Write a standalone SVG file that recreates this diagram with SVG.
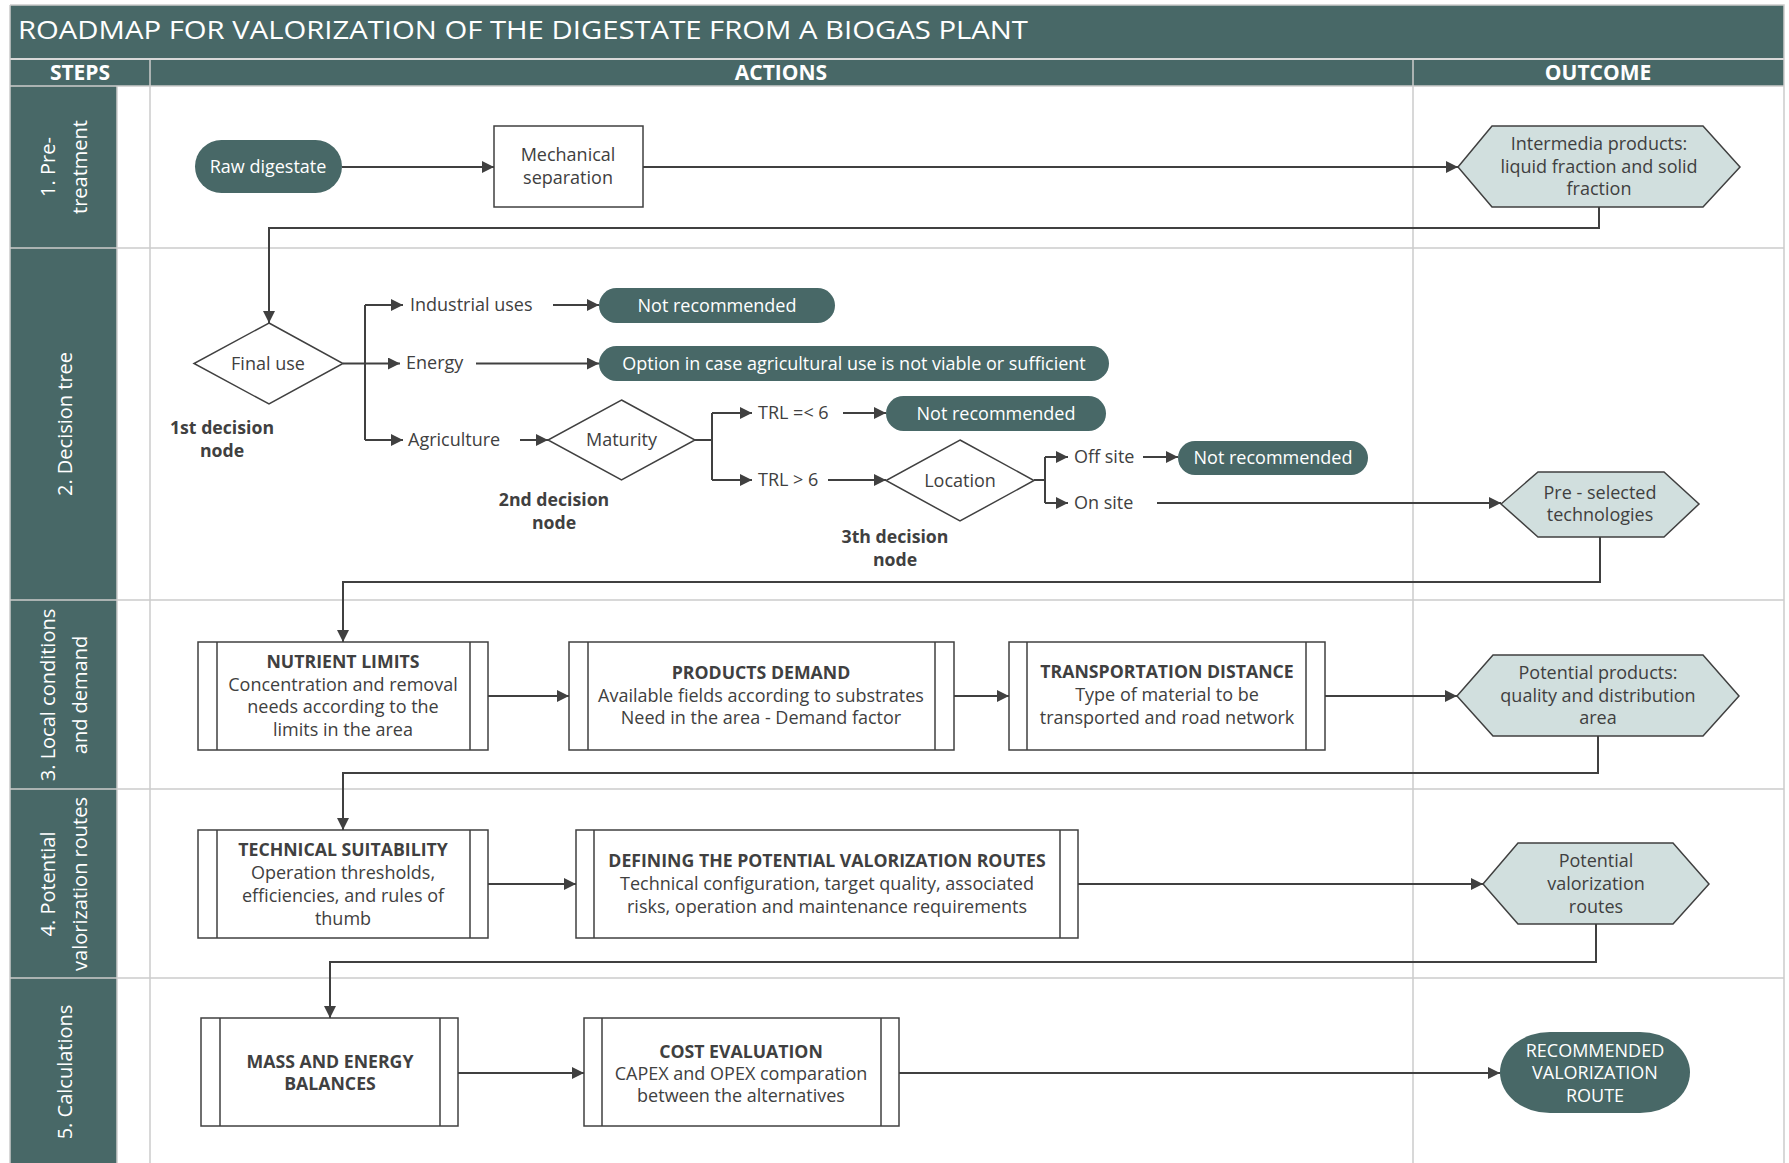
<svg xmlns="http://www.w3.org/2000/svg" width="1789" height="1163" viewBox="0 0 1789 1163">
<style>
.t{font-family:'Open Sans','Noto Sans','DejaVu Sans',sans-serif;font-size:18px;fill:#404040;text-anchor:middle}
.s{text-anchor:start}
.w{fill:#ffffff}
.b{font-weight:bold;font-size:17.7px}
.lane{font-family:'Open Sans','Noto Sans','DejaVu Sans',sans-serif;font-size:20px;fill:#ffffff;text-anchor:middle}
.hdr{font-family:'Open Sans','Noto Sans','DejaVu Sans',sans-serif;font-size:21px;font-weight:bold;fill:#ffffff;text-anchor:middle}
.ttl{font-family:'Open Sans','Noto Sans','DejaVu Sans',sans-serif;font-size:25px;fill:#ffffff}
.teal{fill:#486867}
.grid{stroke:#cccccc;stroke-width:1.5;fill:none}
.box{fill:#ffffff;stroke:#404040;stroke-width:1.5}
.hex{fill:#d1dfde;stroke:#404040;stroke-width:1.5}
.dia{fill:#ffffff;stroke:#404040;stroke-width:1.5}
.conn path{stroke:#404040;stroke-width:2;fill:none}
.arr{marker-end:url(#ah)}
</style>
<defs>
<marker id="ah" markerWidth="12" markerHeight="12" refX="12" refY="6" orient="auto" markerUnits="userSpaceOnUse"><path d="M0,0 L12,6 L0,12 z" fill="#404040"/></marker>
</defs>
<rect x="0" y="0" width="1789" height="1163" fill="#ffffff"/>
<g id="frame">
<rect class="teal" x="10" y="5" width="1774" height="53"/>
<rect class="teal" x="10" y="60" width="1774" height="26"/>
<rect class="teal" x="10" y="86" width="107" height="1077"/>
<path class="grid" d="M10,5 H1784 V1163 M10,5 V1163 M10,59 H1784 M10,86 H1784 M10,248 H1784 M10,600 H1784 M10,789 H1784 M10,978 H1784 M117,86 V1163 M150,60 V1163 M1413,60 V1163"/>
<text class="ttl" x="18" y="39" textLength="1010" lengthAdjust="spacingAndGlyphs">ROADMAP FOR VALORIZATION OF THE DIGESTATE FROM A BIOGAS PLANT</text>
<text class="hdr" x="80" y="80">STEPS</text>
<text class="hdr" x="781" y="80">ACTIONS</text>
<text class="hdr" x="1598" y="80">OUTCOME</text>
</g>
<g id="lanes">
<text class="lane" transform="translate(55,167) rotate(-90)"><tspan x="0" y="0">1. Pre-</tspan><tspan x="0" y="32">treatment</tspan></text>
<text class="lane" transform="translate(72,424) rotate(-90)">2. Decision tree</text>
<text class="lane" transform="translate(55,695) rotate(-90)"><tspan x="0" y="0">3. Local conditions</tspan><tspan x="0" y="32">and demand</tspan></text>
<text class="lane" transform="translate(55,884) rotate(-90)"><tspan x="0" y="0">4. Potential</tspan><tspan x="0" y="32">valorization routes</tspan></text>
<text class="lane" transform="translate(72,1072) rotate(-90)">5. Calculations</text>
</g>
<g class="conn" id="connectors">
<path class="arr" d="M342,167 H494"/>
<path class="arr" d="M643,167 H1458"/>
<path class="arr" d="M1599,207 V228 H269 V323"/>
<path d="M343,363.5 H365 M365,305 V440"/>
<path class="arr" d="M365,305 H403"/>
<path class="arr" d="M365,363.5 H400"/>
<path class="arr" d="M365,440 H403"/>
<path class="arr" d="M553,305 H599"/>
<path class="arr" d="M476,363.5 H599"/>
<path class="arr" d="M520,440 H548"/>
<path d="M695,440 H712 M712,413 V480"/>
<path class="arr" d="M712,413 H752"/>
<path class="arr" d="M712,480 H752"/>
<path class="arr" d="M843,413 H886"/>
<path class="arr" d="M828,480 H886"/>
<path d="M1034,480 H1045 M1045,457 V503"/>
<path class="arr" d="M1045,457 H1068"/>
<path class="arr" d="M1045,503 H1068"/>
<path class="arr" d="M1143,457 H1178"/>
<path class="arr" d="M1157,503 H1501"/>
<path class="arr" d="M1600,537 V582 H343 V642"/>
<path class="arr" d="M488,696 H569"/>
<path class="arr" d="M954,696 H1009"/>
<path class="arr" d="M1325,696 H1457"/>
<path class="arr" d="M1598,736 V773 H343 V830"/>
<path class="arr" d="M488,884 H576"/>
<path class="arr" d="M1078,884 H1483"/>
<path class="arr" d="M1596,924 V962 H330 V1018"/>
<path class="arr" d="M458,1073 H584"/>
<path class="arr" d="M899,1073 H1500"/>
</g>
<g id="raw-digestate">
<rect class="teal" x="195" y="140" width="147" height="53" rx="26.5"/>
<text class="t w" x="268" y="173">Raw digestate</text>
</g>
<g id="mechanical-separation">
<rect class="box" x="494" y="126" width="149" height="81"/>
<text class="t" x="568"><tspan x="568" y="161">Mechanical</tspan><tspan x="568" y="184">separation</tspan></text>
</g>
<g id="intermedia-products">
<polygon class="hex" points="1458,167 1492,126 1703,126 1740,167 1703,207 1492,207"/>
<text class="t" x="1599"><tspan x="1599" y="150">Intermedia products:</tspan><tspan x="1599" y="172.5">liquid fraction and solid</tspan><tspan x="1599" y="195">fraction</tspan></text>
</g>
<g id="final-use">
<polygon class="dia" points="269,323 343,363.5 269,404 194,363.5"/>
<text class="t" x="268" y="370">Final use</text>
<text class="t b"><tspan x="222" y="434">1st decision</tspan><tspan x="222" y="457">node</tspan></text>
</g>
<g id="industrial-uses"><text class="t s" x="410" y="311">Industrial uses</text></g>
<g id="not-recommended-1">
<rect class="teal" x="599" y="288" width="236" height="35" rx="17.5"/>
<text class="t w" x="717" y="312">Not recommended</text>
</g>
<g id="energy"><text class="t s" x="406" y="369">Energy</text></g>
<g id="option">
<rect class="teal" x="599" y="346" width="510" height="35" rx="17.5"/>
<text class="t w" x="854" y="370">Option in case agricultural use is not viable or sufficient</text>
</g>
<g id="agriculture"><text class="t s" x="408" y="446">Agriculture</text></g>
<g id="maturity">
<polygon class="dia" points="621.5,400 695,440 621.5,480 548,440"/>
<text class="t" x="621.5" y="446">Maturity</text>
<text class="t b"><tspan x="554" y="506">2nd decision</tspan><tspan x="554" y="529">node</tspan></text>
</g>
<g id="trl-low"><text class="t s" x="758" y="419">TRL =&lt; 6</text></g>
<g id="not-recommended-2">
<rect class="teal" x="886" y="396" width="220" height="35" rx="17.5"/>
<text class="t w" x="996" y="420">Not recommended</text>
</g>
<g id="trl-high"><text class="t s" x="758" y="486">TRL &gt; 6</text></g>
<g id="location">
<polygon class="dia" points="960,440 1034,480.5 960,521 886,480.5"/>
<text class="t" x="960" y="487">Location</text>
<text class="t b"><tspan x="895" y="543">3th decision</tspan><tspan x="895" y="566">node</tspan></text>
</g>
<g id="off-site"><text class="t s" x="1074" y="463">Off site</text></g>
<g id="not-recommended-3">
<rect class="teal" x="1178" y="441" width="190" height="34" rx="17"/>
<text class="t w" x="1273" y="464">Not recommended</text>
</g>
<g id="on-site"><text class="t s" x="1074" y="509">On site</text></g>
<g id="pre-selected">
<polygon class="hex" points="1501,504 1538,472 1664,472 1699,504 1664,537 1538,537"/>
<text class="t"><tspan x="1600" y="499">Pre - selected</tspan><tspan x="1600" y="521">technologies</tspan></text>
</g>
<g id="nutrient-limits">
<rect class="box" x="198" y="642" width="290" height="108"/>
<path class="box" d="M217,642 V750 M470,642 V750"/>
<text class="t"><tspan class="b" x="343" y="668">NUTRIENT LIMITS</tspan><tspan x="343" y="690.5">Concentration and removal</tspan><tspan x="343" y="713">needs according to the</tspan><tspan x="343" y="735.5">limits in the area</tspan></text>
</g>
<g id="products-demand">
<rect class="box" x="569" y="642" width="385" height="108"/>
<path class="box" d="M588,642 V750 M935,642 V750"/>
<text class="t"><tspan class="b" x="761" y="679">PRODUCTS DEMAND</tspan><tspan x="761" y="702">Available fields according to substrates</tspan><tspan x="761" y="724">Need in the area - Demand factor</tspan></text>
</g>
<g id="transportation-distance">
<rect class="box" x="1009" y="642" width="316" height="108"/>
<path class="box" d="M1027,642 V750 M1306,642 V750"/>
<text class="t"><tspan class="b" x="1167" y="678">TRANSPORTATION DISTANCE</tspan><tspan x="1167" y="701">Type of material to be</tspan><tspan x="1167" y="724">transported and road network</tspan></text>
</g>
<g id="potential-products">
<polygon class="hex" points="1457,696 1493,655 1703,655 1739,696 1703,736 1493,736"/>
<text class="t"><tspan x="1598" y="679">Potential products:</tspan><tspan x="1598" y="702">quality and distribution</tspan><tspan x="1598" y="724">area</tspan></text>
</g>
<g id="technical-suitability">
<rect class="box" x="198" y="830" width="290" height="108"/>
<path class="box" d="M217,830 V938 M470,830 V938"/>
<text class="t"><tspan class="b" x="343" y="856">TECHNICAL SUITABILITY</tspan><tspan x="343" y="879">Operation thresholds,</tspan><tspan x="343" y="902">efficiencies, and rules of</tspan><tspan x="343" y="925">thumb</tspan></text>
</g>
<g id="defining-routes">
<rect class="box" x="576" y="830" width="502" height="108"/>
<path class="box" d="M594,830 V938 M1060,830 V938"/>
<text class="t"><tspan class="b" x="827" y="867">DEFINING THE POTENTIAL VALORIZATION ROUTES</tspan><tspan x="827" y="890">Technical configuration, target quality, associated</tspan><tspan x="827" y="913">risks, operation and maintenance requirements</tspan></text>
</g>
<g id="potential-routes">
<polygon class="hex" points="1483,884 1518,843 1673,843 1709,884 1673,924 1518,924"/>
<text class="t"><tspan x="1596" y="867">Potential</tspan><tspan x="1596" y="890">valorization</tspan><tspan x="1596" y="913">routes</tspan></text>
</g>
<g id="mass-energy">
<rect class="box" x="201" y="1018" width="257" height="108"/>
<path class="box" d="M220,1018 V1126 M440,1018 V1126"/>
<text class="t b"><tspan x="330" y="1068">MASS AND ENERGY</tspan><tspan x="330" y="1090">BALANCES</tspan></text>
</g>
<g id="cost-evaluation">
<rect class="box" x="584" y="1018" width="315" height="108"/>
<path class="box" d="M602,1018 V1126 M881,1018 V1126"/>
<text class="t"><tspan class="b" x="741" y="1058">COST EVALUATION</tspan><tspan x="741" y="1080">CAPEX and OPEX comparation</tspan><tspan x="741" y="1102">between the alternatives</tspan></text>
</g>
<g id="recommended-route">
<rect class="teal" x="1500" y="1032" width="190" height="81" rx="50" ry="40.5"/>
<text class="t w"><tspan x="1595" y="1057">RECOMMENDED</tspan><tspan x="1595" y="1079">VALORIZATION</tspan><tspan x="1595" y="1102">ROUTE</tspan></text>
</g>
</svg>
